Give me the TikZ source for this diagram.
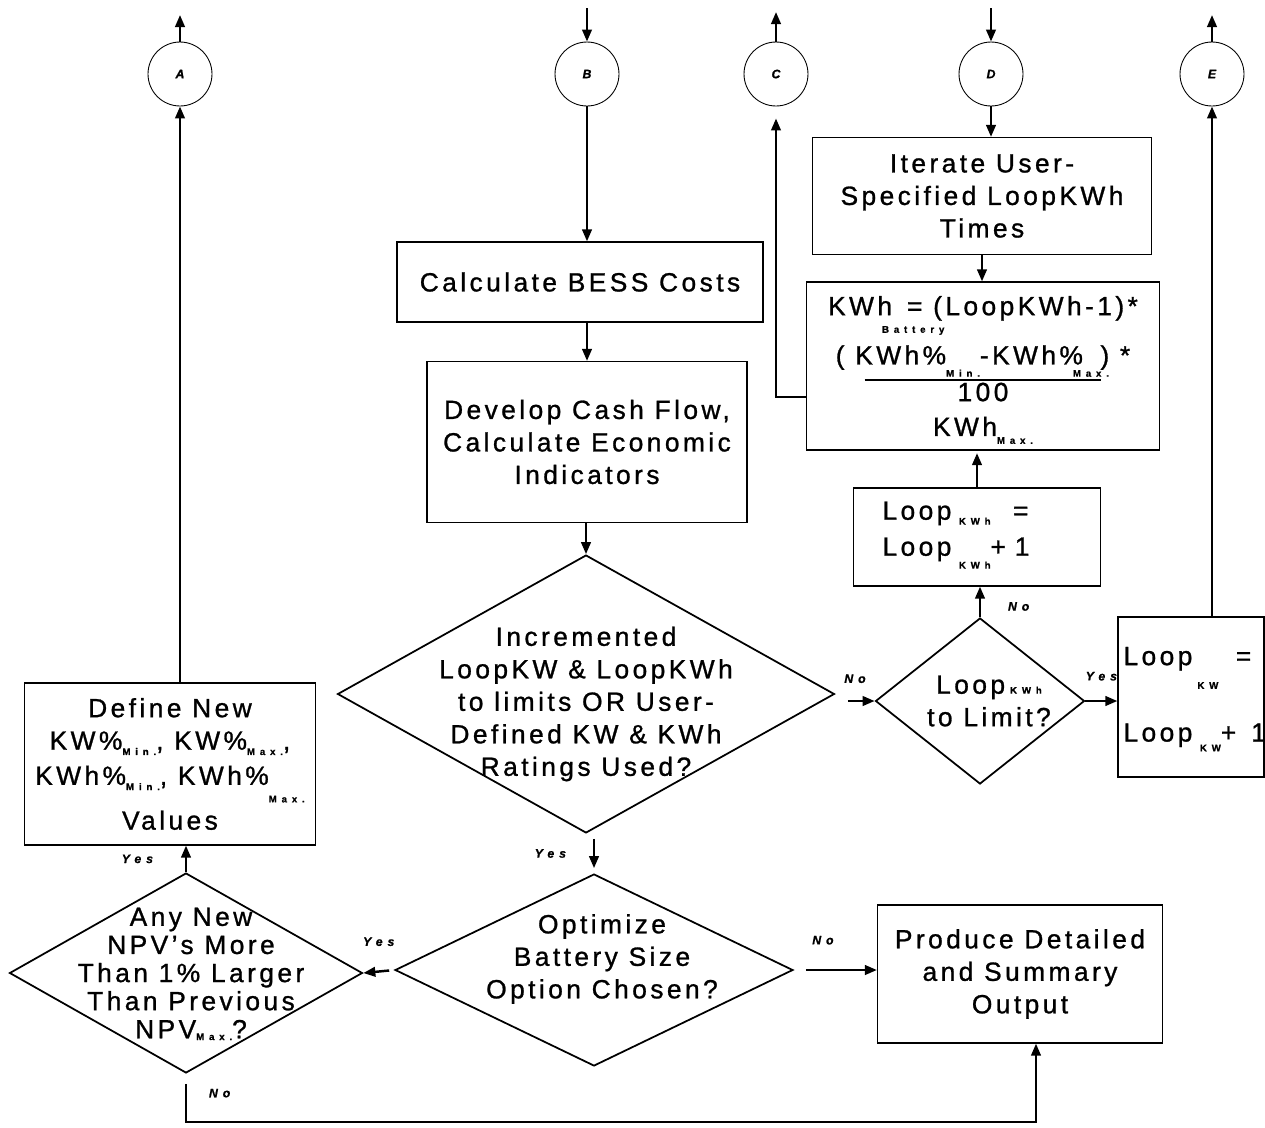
\documentclass[tikz,border=0pt]{standalone}
\usepackage{fontspec}
\setmainfont[LetterSpace=13, FakeBold=1]{Liberation Sans}
\usetikzlibrary{shapes.geometric, arrows.meta, positioning}

% piccolo pedice spaziato (Min., Max., KWh ...)
\newcommand{\lowtxt}[2][-3pt]{\smash{\raisebox{#1}{\fontsize{5.5}{6}\selectfont\bfseries\addfontfeature{LetterSpace=50}#2}}}

\begin{document}
\begin{tikzpicture}[x=0.02cm, y=-0.02cm,
  box/.style={draw=black, line width=0.7pt, inner sep=0pt, align=center, font=\fontsize{15}{18.5}\selectfont},
  decision/.style={draw=black, diamond, line width=1pt, inner sep=0pt},
  dtext/.style={align=center, inner sep=0pt, font=\fontsize{15}{18.5}\selectfont},
  conn/.style={draw=black, circle, line width=0.5pt, minimum size=1.28cm, inner sep=0pt, font=\fontsize{7}{7}\selectfont\bfseries\itshape},
  tag/.style={inner sep=1pt, font=\fontsize{7}{7}\selectfont\bfseries\itshape\addfontfeature{LetterSpace=40}},
  flow/.style={line width=1.4pt, -{Triangle[length=2.4mm, width=1.9mm]}}
  ]
  \useasboundingbox (0,0) rectangle (1265,1127);

  % Connettori di pagina
  \node[conn] (cA) at (180,74) {A};
  \node[conn] (cB) at (587,74) {B};
  \node[conn] (cC) at (776,74) {C};
  \node[conn] (cD) at (991,74) {D};
  \node[conn] (cE) at (1212,74) {E};
  \coordinate (aOut) at (180,15);
  \coordinate (bIn) at (587,8);
  \coordinate (cOut) at (776,12);
  \coordinate (dIn) at (991,8);
  \coordinate (eOut) at (1212,15);
  \coordinate (noTurn) at (186,1122);

  % Blocchi
  \node[box, minimum width=7.32cm, minimum height=1.6cm] (bess) at (580,282) {Calculate BESS Costs};
  \node[box, minimum width=6.4cm, minimum height=3.22cm] (dev) at (587,442) {Develop Cash Flow,\\Calculate Economic\\Indicators};
  \node[box, minimum width=6.78cm, minimum height=2.34cm] (iter) at (982,196) {Iterate User-\\Specified LoopKWh\\Times};
  \node[box, minimum width=7.06cm, minimum height=3.36cm, font=\fontsize{15}{17}\selectfont] (fbox) at (983,366)
    {KWh\rlap{\kern-0.2cm\lowtxt[-10pt]{Battery}}\hspace{0.3cm}= (LoopKWh-1)*\\[11pt]
     ( KWh\%\lowtxt[-7pt]{Min.}-KWh\%\rlap{\kern-0.2cm\lowtxt[-7pt]{Max.}}\hspace{0.35cm}) *\\[-7.4pt]
     \rule{4.74cm}{1.4pt}\\[-5.7pt]
     100\\[2.8pt]
     KWh\lowtxt[-4.5pt]{Max.}};
  \node[box, minimum width=4.94cm, minimum height=1.96cm, text width=3.78cm, align=left] (kwhbox) at (977,537)
    {Loop\hspace{0.15cm}\lowtxt[-2.8pt]{KWh}\hspace{0.45cm}=\\[2pt]
     Loop\hspace{0.15cm}\lowtxt[-7.3pt]{KWh}+ 1\\[-9pt]\mbox{}};
  \node[box, minimum width=2.92cm, minimum height=3.2cm, text width=2.7cm, align=left] (kwbox) at (1191,697)
    {Loop\hspace{0.1cm}\lowtxt[-13.5pt]{KW}\hspace{0.35cm}=\\[25pt]
     Loop\hspace{0.15cm}\lowtxt[-5.6pt]{KW}+\rlap{\hspace{0.3cm}1}};
  \node[box, minimum width=5.82cm, minimum height=3.24cm] (defbox) at (170,764)
    {Define New\\
     KW\%\lowtxt{Min.}, KW\%\lowtxt{Max.},\\[1.5pt]
     KWh\%\lowtxt{Min.}, KWh\%\lowtxt[-10pt]{Max.}\\[7pt]
     Values};
  \node[box, minimum width=5.7cm, minimum height=2.76cm] (prod) at (1020,974) {Produce Detailed\\and Summary\\Output};

  % Decisioni
  \node[decision, minimum width=9.94cm, minimum height=5.56cm] (d1) at (586,694) {};
  \node[dtext] (d1t) at ([yshift=-0.2cm]d1.center) {Incremented\\LoopKW \& LoopKWh\\to limits OR User-\\Defined KW \& KWh\\Ratings Used?};
  \node[decision, minimum width=7.96cm, minimum height=3.84cm] (d2) at (594,970) {};
  \node[dtext] (d2t) at ([xshift=0.16cm, yshift=0.22cm]d2.center) {Optimize\\Battery Size\\Option Chosen?};
  \node[decision, minimum width=7.06cm, minimum height=4cm] (d3) at (186,973) {};
  \node[dtext, font=\fontsize{15}{16}\selectfont] (d3t) at ([xshift=0.1cm]d3.center) {Any New\\NPV's More\\Than 1\% Larger\\Than Previous\\NPV\lowtxt[-1pt]{Max.}?};
  \node[decision, minimum width=4.18cm, minimum height=3.32cm] (d4) at (980,701) {};
  \node[dtext] (d4t) at ([xshift=0.18cm]d4.center) {Loop\hspace{0.1cm}\lowtxt[0pt]{KWh}\\to Limit?};

  % Frecce
  \draw[flow] (cA.north) -- (aOut);
  \draw[flow] (cA.south |- defbox.north) -- (cA.south);
  \draw[flow] (bIn) -- (cB.north);
  \draw[flow] (cB.south) -- (cB.south |- bess.north);
  \draw[flow] (dev.north |- bess.south) -- (dev.north);
  \draw[flow] (d1.north |- dev.south) -- (d1.north);
  \draw[flow, shorten <=0.1cm, shorten >=0.1cm] (d2.north |- d1.south) -- node[tag, left=0.5cm] {Yes} (d2.north);
  \draw[flow, shorten <=0.24cm] (d2.east) -- node[tag, above=0.45cm, pos=0.35] {No} (d2.east -| prod.west);
  \draw[flow, shorten <=0.1cm] (d2.west) -- node[tag, above=0.45cm] {Yes} (d3.east);
  \draw[flow] (d3.north) -- node[tag, left=0.6cm] {Yes} (d3.north |- defbox.south);
  \draw[flow, shorten <=0.2cm] (d3.south) -- node[tag, right=0.4cm, pos=0.4] {No} (noTurn) -| ([xshift=0.32cm]prod.south);
  \draw[flow, shorten <=0.25cm] (d4.west -| d1.east) -- node[tag, above=0.3cm] {No} (d4.west);
  \draw[flow] (d4.north) -- node[tag, right=0.5cm, pos=0.35] {No} (d4.north |- kwhbox.south);
  \draw[flow, shorten >=0.05cm] (kwhbox.north) -- (kwhbox.north |- fbox.south);
  \draw[flow] (cD.south) -- (cD.south |- iter.north);
  \draw[flow] (dIn) -- (cD.north);
  \draw[flow] (iter.south) -- (iter.south |- fbox.north);
  \draw[flow, shorten >=0.24cm] ([yshift=-0.62cm]fbox.west) -| (cC.south);
  \draw[flow] (cC.north) -- (cOut);
  \draw[flow] (d4.east) -- node[tag, above=0.35cm] {Yes} (d4.east -| kwbox.west);
  \draw[flow] (cE.south |- kwbox.north) -- (cE.south);
  \draw[flow] (cE.north) -- (eOut);
\end{tikzpicture}
\end{document}
